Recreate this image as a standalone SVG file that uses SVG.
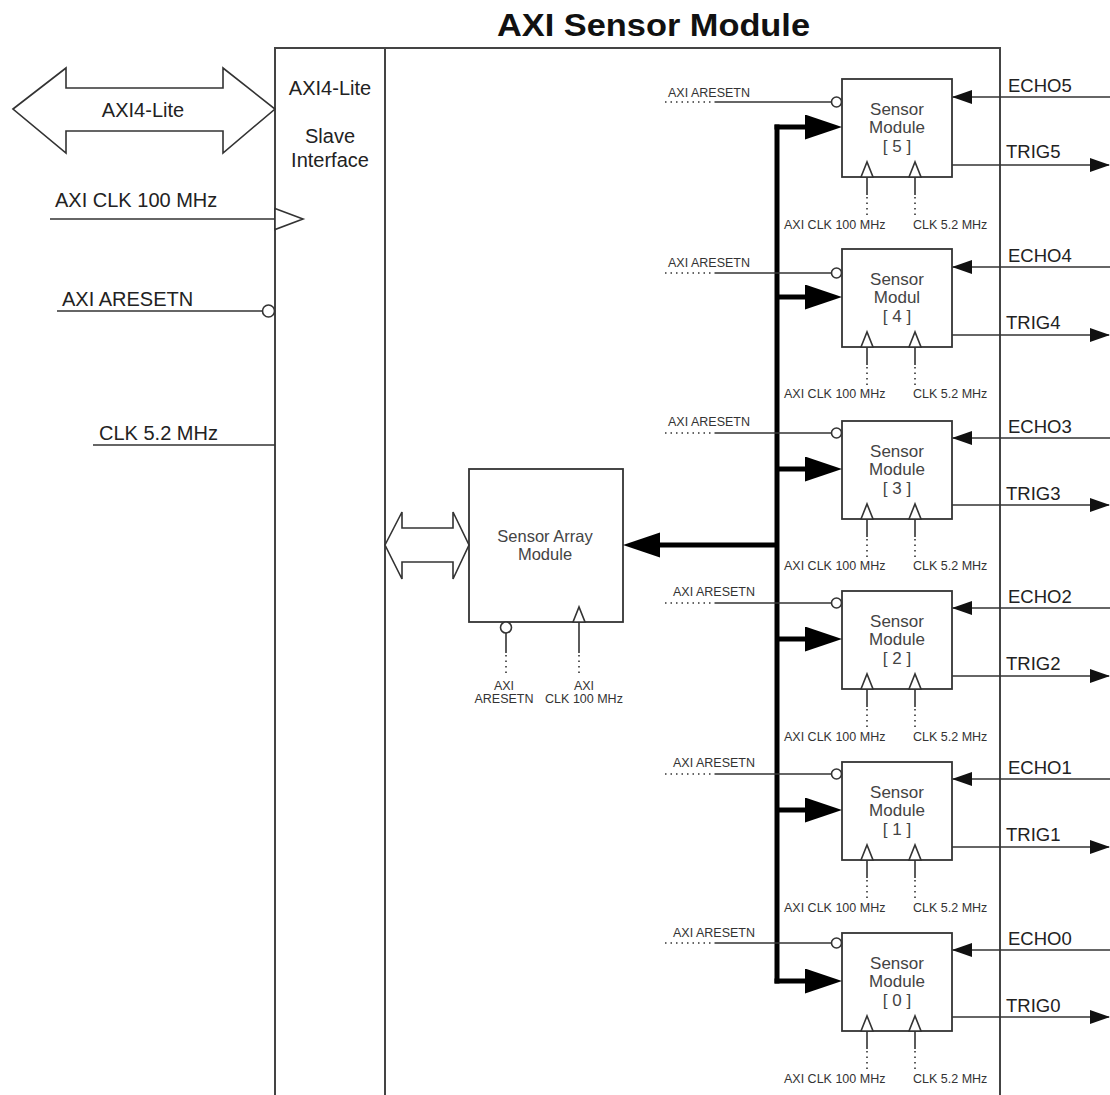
<svg xmlns="http://www.w3.org/2000/svg" width="1110" height="1095" viewBox="0 0 1110 1095">
<style>
text{font-family:"Liberation Sans",Arial,sans-serif;fill:#222}
.ln{stroke:#333;stroke-width:1.6;fill:none}
.dot{stroke:#333;stroke-width:1.6;fill:none;stroke-dasharray:1.5 4}
.bus{stroke:#000;stroke-width:5;fill:none}
.box{fill:#fff;stroke:#333;stroke-width:1.8}
.frame{fill:none;stroke:#444;stroke-width:2}
.clk{fill:#fff;stroke:#333;stroke-width:1.6}
.big{font-size:20px}
.sig{font-size:18.5px}
.mod{font-size:17px;fill:#444;text-anchor:middle}
.sm{font-size:12.5px;fill:#333}
.smc{font-size:12.5px;fill:#333;text-anchor:middle}
</style>
<defs>
<marker id="sa" markerUnits="userSpaceOnUse" markerWidth="20" markerHeight="14" refX="19" refY="7" orient="auto"><path d="M0,0 L20,7 L0,14 z" fill="#111"/></marker>
<marker id="ba" markerUnits="userSpaceOnUse" markerWidth="38" markerHeight="26" refX="0" refY="12.5" orient="auto"><path d="M0,0 L37,12.5 L0,25 z" fill="#000"/></marker>
</defs>
<rect width="1110" height="1095" fill="#fff"/>
<text x="497" y="36" font-size="31" font-weight="bold" textLength="313" lengthAdjust="spacingAndGlyphs" style="fill:#111">AXI Sensor Module</text>

<g id="axi-sensor-module">
<path class="frame" d="M275 1095 V48 H1000 V1095"/>
<line class="frame" x1="385" y1="48" x2="385" y2="1095"/>
</g>

<g id="slave-interface">
<text class="big" x="330" y="95" text-anchor="middle">AXI4-Lite</text>
<text class="big" x="330" y="143" text-anchor="middle">Slave</text>
<text class="big" x="330" y="167" text-anchor="middle">Interface</text>
<polygon class="clk" points="275,208.5 303,219 275,229.5"/>
<circle class="clk" cx="268.5" cy="311" r="6"/>
</g>

<g id="axi4-lite-bus">
<polygon class="clk" points="13,109 66,68 66,88 223,88 223,68 275,109 223,153 223,131 66,131 66,153"/>
<text class="big" x="143" y="117" text-anchor="middle">AXI4-Lite</text>
</g>

<g id="sensor-array-module">
<rect class="box" x="469" y="469" width="154" height="153"/>
<text x="545" y="542" font-size="16.5" text-anchor="middle" style="fill:#444">Sensor Array</text>
<text x="545" y="560" font-size="16.5" text-anchor="middle" style="fill:#444">Module</text>
<circle class="clk" cx="506" cy="627.5" r="5.5"/>
<polygon class="clk" points="573,622 579,607 585,622"/>
</g>

<g id="internal-bus">
<polygon class="clk" points="385,545 402,512 402,528 453,528 453,512 469,545 453,579 453,562 402,562 402,579"/>
</g>

<g id="sensor-module-5">
<rect class="box" x="842" y="79" width="110" height="98"/>
<text class="mod" x="897" y="115">Sensor</text><text class="mod" x="897" y="133">Module</text><text class="mod" x="897" y="152">[ 5 ]</text>
<circle class="clk" cx="836.5" cy="102" r="5"/>
<polygon class="clk" points="861,177 867,162 873,177"/><polygon class="clk" points="909,177 915,162 921,177"/>
</g>
<g id="sensor-module-4">
<rect class="box" x="842" y="249" width="110" height="98"/>
<text class="mod" x="897" y="285">Sensor</text><text class="mod" x="897" y="303">Modul</text><text class="mod" x="897" y="322">[ 4 ]</text>
<circle class="clk" cx="836.5" cy="273" r="5"/>
<polygon class="clk" points="861,347 867,332 873,347"/><polygon class="clk" points="909,347 915,332 921,347"/>
</g>
<g id="sensor-module-3">
<rect class="box" x="842" y="421" width="110" height="98"/>
<text class="mod" x="897" y="457">Sensor</text><text class="mod" x="897" y="475">Module</text><text class="mod" x="897" y="494">[ 3 ]</text>
<circle class="clk" cx="836.5" cy="433" r="5"/>
<polygon class="clk" points="861,519 867,504 873,519"/><polygon class="clk" points="909,519 915,504 921,519"/>
</g>
<g id="sensor-module-2">
<rect class="box" x="842" y="591" width="110" height="98"/>
<text class="mod" x="897" y="627">Sensor</text><text class="mod" x="897" y="645">Module</text><text class="mod" x="897" y="664">[ 2 ]</text>
<circle class="clk" cx="836.5" cy="603" r="5"/>
<polygon class="clk" points="861,689 867,674 873,689"/><polygon class="clk" points="909,689 915,674 921,689"/>
</g>
<g id="sensor-module-1">
<rect class="box" x="842" y="762" width="110" height="98"/>
<text class="mod" x="897" y="798">Sensor</text><text class="mod" x="897" y="816">Module</text><text class="mod" x="897" y="835">[ 1 ]</text>
<circle class="clk" cx="836.5" cy="774" r="5"/>
<polygon class="clk" points="861,860 867,845 873,860"/><polygon class="clk" points="909,860 915,845 921,860"/>
</g>
<g id="sensor-module-0">
<rect class="box" x="842" y="933" width="110" height="98"/>
<text class="mod" x="897" y="969">Sensor</text><text class="mod" x="897" y="987">Module</text><text class="mod" x="897" y="1006">[ 0 ]</text>
<circle class="clk" cx="836.5" cy="943" r="5"/>
<polygon class="clk" points="861,1031 867,1016 873,1031"/><polygon class="clk" points="909,1031 915,1016 921,1031"/>
</g>

<g id="connectors">
<!-- left inputs -->
<line class="ln" x1="50" y1="219" x2="275" y2="219"/>
<text class="big" x="55" y="207">AXI CLK 100 MHz</text>
<line class="ln" x1="57" y1="311" x2="262.5" y2="311"/>
<text class="big" x="62" y="306">AXI ARESETN</text>
<line class="ln" x1="93" y1="445" x2="275" y2="445"/>
<text class="big" x="99" y="440">CLK 5.2 MHz</text>

<!-- array module inputs -->
<line class="ln" x1="506" y1="633" x2="506" y2="653"/><line class="dot" x1="506" y1="655" x2="506" y2="676"/>
<line class="ln" x1="579" y1="622" x2="579" y2="653"/><line class="dot" x1="579" y1="655" x2="579" y2="676"/>
<text class="smc" x="504" y="690">AXI</text><text class="smc" x="504" y="703">ARESETN</text>
<text class="smc" x="584" y="690">AXI</text><text class="smc" x="584" y="703">CLK 100 MHz</text>

<!-- bus -->
<line class="bus" x1="777" y1="124.5" x2="777" y2="983.5"/>
<line class="bus" x1="777" y1="545" x2="660" y2="545" marker-end="url(#ba)"/>
<line class="bus" x1="774.5" y1="127" x2="805" y2="127" marker-end="url(#ba)"/>
<line class="bus" x1="777" y1="297" x2="805" y2="297" marker-end="url(#ba)"/>
<line class="bus" x1="777" y1="469" x2="805" y2="469" marker-end="url(#ba)"/>
<line class="bus" x1="777" y1="639" x2="805" y2="639" marker-end="url(#ba)"/>
<line class="bus" x1="777" y1="810" x2="805" y2="810" marker-end="url(#ba)"/>
<line class="bus" x1="774.5" y1="981" x2="805" y2="981" marker-end="url(#ba)"/>

<!-- module 5 -->
<line class="dot" x1="665" y1="102" x2="715" y2="102"/><line class="ln" x1="715" y1="102" x2="831.5" y2="102"/>
<text class="sm" x="668" y="97">AXI ARESETN</text>
<line class="ln" x1="1110" y1="97" x2="953" y2="97" marker-end="url(#sa)"/>
<text class="sig" x="1008" y="92">ECHO5</text>
<line class="ln" x1="952" y1="165" x2="1109" y2="165" marker-end="url(#sa)"/>
<text class="sig" x="1006" y="158">TRIG5</text>
<path class="ln" d="M867 177 V195 M915 177 V195"/><path class="dot" d="M867 197 V219 M915 197 V219"/>
<text class="sm" x="784" y="229">AXI CLK 100 MHz</text><text class="sm" x="913" y="229">CLK 5.2 MHz</text>

<!-- module 4 -->
<line class="dot" x1="665" y1="273" x2="715" y2="273"/><line class="ln" x1="715" y1="273" x2="831.5" y2="273"/>
<text class="sm" x="668" y="267">AXI ARESETN</text>
<line class="ln" x1="1110" y1="267" x2="953" y2="267" marker-end="url(#sa)"/>
<text class="sig" x="1008" y="262">ECHO4</text>
<line class="ln" x1="952" y1="335" x2="1109" y2="335" marker-end="url(#sa)"/>
<text class="sig" x="1006" y="329">TRIG4</text>
<path class="ln" d="M867 347 V365 M915 347 V365"/><path class="dot" d="M867 367 V389 M915 367 V389"/>
<text class="sm" x="784" y="398">AXI CLK 100 MHz</text><text class="sm" x="913" y="398">CLK 5.2 MHz</text>

<!-- module 3 -->
<line class="dot" x1="665" y1="433" x2="715" y2="433"/><line class="ln" x1="715" y1="433" x2="831.5" y2="433"/>
<text class="sm" x="668" y="426">AXI ARESETN</text>
<line class="ln" x1="1110" y1="438" x2="953" y2="438" marker-end="url(#sa)"/>
<text class="sig" x="1008" y="433">ECHO3</text>
<line class="ln" x1="952" y1="505" x2="1109" y2="505" marker-end="url(#sa)"/>
<text class="sig" x="1006" y="500">TRIG3</text>
<path class="ln" d="M867 519 V537 M915 519 V537"/><path class="dot" d="M867 539 V561 M915 539 V561"/>
<text class="sm" x="784" y="570">AXI CLK 100 MHz</text><text class="sm" x="913" y="570">CLK 5.2 MHz</text>

<!-- module 2 -->
<line class="dot" x1="665" y1="603" x2="715" y2="603"/><line class="ln" x1="715" y1="603" x2="831.5" y2="603"/>
<text class="sm" x="673" y="596">AXI ARESETN</text>
<line class="ln" x1="1110" y1="608" x2="953" y2="608" marker-end="url(#sa)"/>
<text class="sig" x="1008" y="603">ECHO2</text>
<line class="ln" x1="952" y1="676" x2="1109" y2="676" marker-end="url(#sa)"/>
<text class="sig" x="1006" y="670">TRIG2</text>
<path class="ln" d="M867 689 V707 M915 689 V707"/><path class="dot" d="M867 709 V731 M915 709 V731"/>
<text class="sm" x="784" y="741">AXI CLK 100 MHz</text><text class="sm" x="913" y="741">CLK 5.2 MHz</text>

<!-- module 1 -->
<line class="dot" x1="665" y1="774" x2="715" y2="774"/><line class="ln" x1="715" y1="774" x2="831.5" y2="774"/>
<text class="sm" x="673" y="767">AXI ARESETN</text>
<line class="ln" x1="1110" y1="779" x2="953" y2="779" marker-end="url(#sa)"/>
<text class="sig" x="1008" y="774">ECHO1</text>
<line class="ln" x1="952" y1="847" x2="1109" y2="847" marker-end="url(#sa)"/>
<text class="sig" x="1006" y="841">TRIG1</text>
<path class="ln" d="M867 860 V878 M915 860 V878"/><path class="dot" d="M867 880 V902 M915 880 V902"/>
<text class="sm" x="784" y="912">AXI CLK 100 MHz</text><text class="sm" x="913" y="912">CLK 5.2 MHz</text>

<!-- module 0 -->
<line class="dot" x1="665" y1="943" x2="715" y2="943"/><line class="ln" x1="715" y1="943" x2="831.5" y2="943"/>
<text class="sm" x="673" y="937">AXI ARESETN</text>
<line class="ln" x1="1110" y1="950" x2="953" y2="950" marker-end="url(#sa)"/>
<text class="sig" x="1008" y="945">ECHO0</text>
<line class="ln" x1="952" y1="1017" x2="1109" y2="1017" marker-end="url(#sa)"/>
<text class="sig" x="1006" y="1012">TRIG0</text>
<path class="ln" d="M867 1031 V1049 M915 1031 V1049"/><path class="dot" d="M867 1051 V1073 M915 1051 V1073"/>
<text class="sm" x="784" y="1083">AXI CLK 100 MHz</text><text class="sm" x="913" y="1083">CLK 5.2 MHz</text>
</g>
</svg>
